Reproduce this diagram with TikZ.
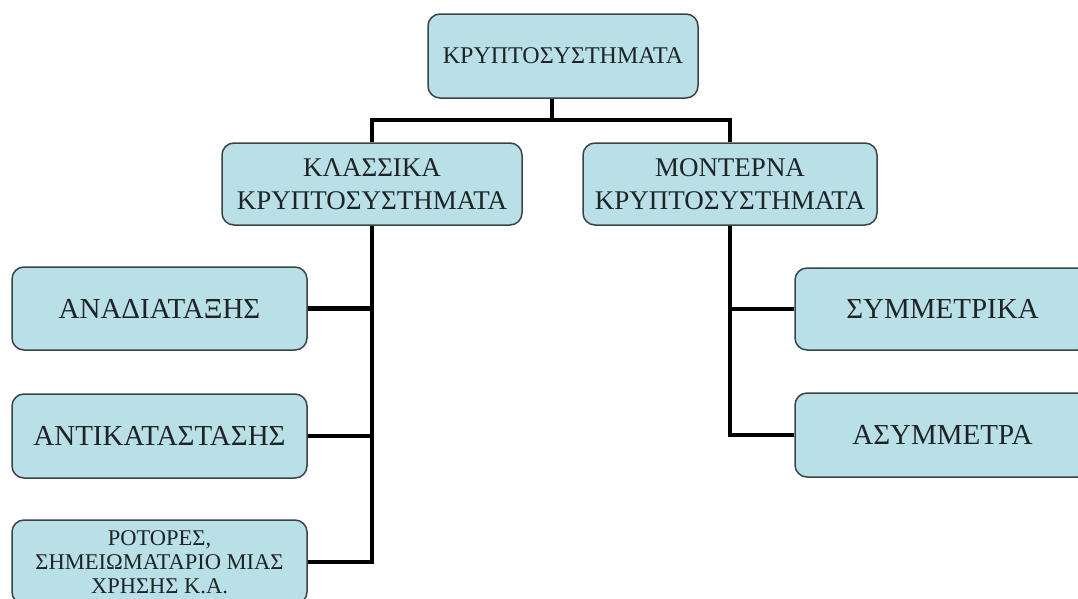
\documentclass[tikz,border=0pt]{standalone}
\usepackage{fontspec}
\setmainfont{Liberation Serif}
\definecolor{boxfill}{HTML}{B9DFE7}
\definecolor{boxline}{HTML}{3A4448}
\definecolor{txt}{HTML}{1E2426}
\begin{document}
\begin{tikzpicture}[x=1pt,y=1pt,
  box/.style={draw=boxline,line width=1.5pt,fill=boxfill,rounded corners=12pt,
    text=txt,align=center,inner sep=0pt},
  conn/.style={line width=4.5pt,black}]
\useasboundingbox (0,0) rectangle (1078,-598);
\clip (0,0) rectangle (1078,-598);
\fill[white] (0,0) rectangle (1078,-598);
\node[box,minimum width=270pt,minimum height=84pt,font=\fontsize{24}{28}\selectfont] (top) at (563,-56) {ΚΡΥΠΤΟΣΥΣΤΗΜΑΤΑ};
\node[box,minimum width=300pt,minimum height=82pt,font=\fontsize{27}{33}\selectfont] (klass) at (372,-184) {ΚΛΑΣΣΙΚΑ\\ΚΡΥΠΤΟΣΥΣΤΗΜΑΤΑ};
\node[box,minimum width=294pt,minimum height=82pt,font=\fontsize{27}{33}\selectfont] (mont) at (730,-184) {ΜΟΝΤΕΡΝΑ\\ΚΡΥΠΤΟΣΥΣΤΗΜΑΤΑ};
\node[box,minimum width=295pt,minimum height=83pt,font=\fontsize{29}{34}\selectfont] (ana) at (159.5,-308.5) {ΑΝΑΔΙΑΤΑΞΗΣ};
\node[box,minimum width=295pt,minimum height=84pt,font=\fontsize{29}{34}\selectfont] (anti) at (159.5,-436) {ΑΝΤΙΚΑΤΑΣΤΑΣΗΣ};
\node[box,minimum width=295pt,minimum height=84pt,font=\fontsize{22.5}{24}\selectfont] (rot) at (159.5,-562) {ΡΟΤΟΡΕΣ,\\ΣΗΜΕΙΩΜΑΤΑΡΙΟ ΜΙΑΣ\\ΧΡΗΣΗΣ Κ.Α.};
\node[box,minimum width=295pt,minimum height=82pt,font=\fontsize{29}{34}\selectfont] (sym) at (942.5,-309) {ΣΥΜΜΕΤΡΙΚΑ};
\node[box,minimum width=295pt,minimum height=84pt,font=\fontsize{29}{34}\selectfont] (asym) at (942.5,-435) {ΑΣΥΜΜΕΤΡΑ};
\coordinate (bus) at (552,-120);
\draw[conn] ([xshift=-11pt]top.south) -- (bus);
\draw[conn] (klass.north) |- (bus) -| (mont.north);
\draw[conn] (klass.south) -- (klass.south |- rot.east) -- (rot.east);
\draw[conn] (ana.east) -- (ana.east -| klass.south);
\draw[conn] (anti.east) -- (anti.east -| klass.south);
\draw[conn] (mont.south) -- (mont.south |- asym.west) -- (asym.west);
\draw[conn] (sym.west) -- (sym.west -| mont.south);
\end{tikzpicture}
\end{document}
